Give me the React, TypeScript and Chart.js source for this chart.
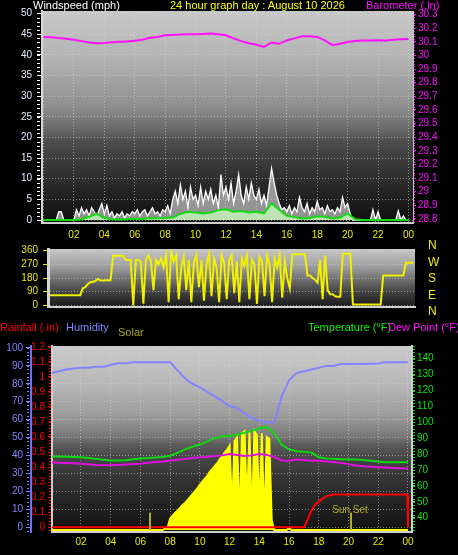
import React, { useEffect, useRef } from "react";
import { Chart, registerables } from "chart.js";

Chart.register(...registerables);

const FONT = "'Liberation Sans', Arial, sans-serif";
Chart.defaults.font.family = FONT;
Chart.defaults.font.size = 10;

// ---------------- DATA ----------------
// half-hourly series: index i -> hour i * 0.5 (0 .. 24)
const barometerInHalfHourly = [
  30.135, 30.133, 30.128, 30.122, 30.115, 30.105, 30.095, 30.09, 30.092, 30.096,
  30.1, 30.103, 30.107, 30.115, 30.13, 30.135, 30.148, 30.15, 30.153, 30.155,
  30.156, 30.158, 30.16, 30.155, 30.148, 30.125, 30.105, 30.09, 30.078, 30.062,
  30.095, 30.085, 30.11, 30.125, 30.14, 30.14, 30.136, 30.11, 30.075, 30.085,
  30.098, 30.106, 30.11, 30.11, 30.112, 30.11, 30.115, 30.118, 30.12,
];
const windAvgMphHalfHourly = [
  0, 0, 0, 0, 0, 0.2, 0.8, 1.5, 0.5, 0.2,
  0.1, 0.2, 0.3, 0.2, 0.5, 0.4, 0.5, 0.6, 1.5, 2,
  1.8, 1.6, 1.8, 2.4, 2.6, 2, 2.2, 1.8, 2, 1.6,
  4.0, 2.5, 1.0, 0.7, 0.4, 0.5, 0.9, 0.8, 0.4, 0.6,
  1.6, 0.2, 0, 0, 0, 0, 0, 0, 0,
];
const humidityHalfHourly = [
  86, 87, 88, 88.5, 89, 89, 89.5, 89.5, 90.5, 91.5,
  91.5, 92, 92, 92, 92, 92, 92, 87.5, 83, 80,
  78, 75.5, 73, 70.5, 67.5, 66.5, 63.5, 61, 59.5, 58.3,
  58.5, 73, 82, 86, 87, 88, 89, 90, 90, 91,
  91, 91, 91, 91.2, 91.4, 92, 92, 92, 92,
];
const temperatureHalfHourly = [
  78.5, 78.5, 78.3, 78.1, 78, 77.5, 77, 76.5, 76, 76,
  76.2, 76.8, 77.3, 77.6, 77.8, 78.2, 79, 80.8, 83, 84.6,
  86, 88, 90, 91.2, 91.6, 92.2, 93.5, 94.6, 96.3, 97,
  93, 86, 83, 81.8, 81.4, 81, 78, 77.2, 77, 76.8,
  76.6, 76.6, 76.3, 75.8, 75.3, 74.9, 74.8, 74.8, 74.8,
];
const dewPointHalfHourly = [
  74.8, 74.6, 74.4, 74.2, 74, 73.6, 73.2, 73, 73, 73.2,
  73.5, 73.8, 74, 74.5, 75, 75.3, 75.8, 76.4, 77, 77.5,
  78, 78.4, 78.8, 79.2, 80, 79.4, 78.8, 79.2, 80, 79.5,
  78.2, 76, 75.8, 76.6, 76.3, 76, 75.8, 75.4, 75, 74.4,
  73.7, 72.8, 72.3, 72, 71.7, 71.5, 71.3, 71.1, 71,
];

// ten-minute series: index i -> hour i / 6 (0 .. 24), one row per hour
const windGustMph10Min = [
  0, 0, 0, 0, 0, 0,
  2, 2, 0, 0, 0, 0,
  0, 2.5, 1, 3, 1.5, 2.5,
  1, 3, 2, 1, 2.5, 4,
  1.5, 3.5, 1, 2, 0.5, 1.5,
  1, 2, 0.5, 1.5, 1, 2,
  1.5, 2.5, 1, 2, 2.5, 1,
  2, 3, 1.5, 2, 1, 2.5,
  2, 3.5, 1.5, 5, 7, 4,
  8.5, 5, 7, 3, 8, 5,
  6, 3.5, 8, 4, 7, 5,
  7.5, 4, 6, 3, 11, 6,
  8, 5, 9, 4, 7, 11,
  6, 4, 8, 5, 9, 6,
  5, 7.5, 4, 6, 3.5, 8,
  12.5, 9, 6, 4, 2.5, 3,
  2, 3.5, 1.5, 3, 2, 5.5,
  3, 2, 4, 1.5, 3, 2,
  4.5, 2.5, 3, 1.5, 3.5, 2,
  2.5, 1.5, 3, 2, 5.5, 3,
  4, 1.5, 0, 0, 0, 0,
  0, 0, 0, 0, 2.5, 0,
  2, 0, 0, 0, 0, 0,
  0, 0, 2.2, 0, 1, 0,
  0,
];
const windDirDeg10Min = [
  67, 67, 67, 67, 67, 67,
  67, 67, 67, 67, 67, 67,
  67, 112, 120, 140, 152, 155,
  160, 175, 163, 163, 165, 165,
  165, 326, 328, 326, 326, 326,
  300, 298, 298, 0, 298, 300,
  285, 10, 300, 330, 290, 100,
  300, 270, 310, 250, 330, 20,
  350, 290, 330, 40, 250, 320,
  100, 300, 20, 280, 330, 120,
  300, 30, 270, 340, 60, 310,
  250, 20, 330, 280, 40, 300,
  330, 80, 290, 20, 310, 260,
  330, 40, 300, 270, 10, 320,
  290, 60, 330, 270, 20, 310,
  250, 330, 50, 290, 180, 112,
  337, 337, 337, 337, 337, 337,
  197, 197, 180, 169, 150, 300,
  40, 330, 100, 73, 73, 60,
  56, 56, 340, 340, 340, 340,
  6, 6, 6, 6, 6, 6,
  6, 6, 6, 6, 6, 6,
  197, 197, 197, 197, 197, 197,
  197, 197, 197, 281, 281, 281,
  281,
];
const solarWm2_10Min = [
  0, 0, 0, 0, 0, 0,
  0, 0, 0, 0, 0, 0,
  0, 0, 0, 0, 0, 0,
  0, 0, 0, 0, 0, 0,
  0, 0, 0, 0, 0, 0,
  0, 0, 0, 0, 0, 0,
  0, 0, 0, 0, 0, 0,
  0, 0, 0, 0, 10, 15,
  60, 75, 90, 100, 115, 130,
  140, 155, 170, 185, 200, 215,
  235, 250, 265, 280, 300, 315,
  330, 345, 365, 380, 400, 415,
  435, 100, 460, 480, 30, 500,
  510, 120, 505, 40, 510, 490,
  80, 500, 20, 480, 470, 50,
  0, 0, 0, 0, 0, 0,
  10, 0, 0, 0, 0, 0,
  0, 0, 0, 0, 0, 0,
  0, 0, 0, 0, 0, 0,
  0, 0, 0, 0, 0, 0,
  0, 0, 0, 0, 0, 0,
  0, 0, 0, 0, 0, 0,
  0, 0, 0, 0, 0, 0,
  0, 0, 0, 0, 0, 0,
  0,
];

const rainHours = [0, 17.0, 17.25, 17.5, 17.75, 18.0, 18.25, 18.5, 18.75, 19.0, 23.95, 24.0];
const rainInches = [0, 0, 0.05, 0.11, 0.15, 0.17, 0.19, 0.205, 0.213, 0.217, 0.217, 0];

const sunEventHours = [6.65, 20.17];
const sunEventLabels = ["", "Sun Set"];
const sunEventMarkerSolar = 90;

const compassLabels = ["N", "W", "S", "E", "N"];

// ---------------- helpers ----------------
const atStep = (values: number[], step: number) => values.map((v, i) => ({ x: i * step, y: v }));
const pairs = (xs: number[], ys: number[]) => xs.map((x, i) => ({ x, y: ys[i] }));
const hourLabel = (v: number) => String(Math.round(v) % 24).padStart(2, "0");

const GRID = "rgba(215,215,215,0.55)";

function bgPlugin(stops: [number, string][]) {
  return {
    id: "bgGradient",
    beforeDraw(chart: any) {
      const { ctx, chartArea } = chart;
      if (!chartArea) return;
      const { left, top, right, bottom } = chartArea;
      const g = ctx.createLinearGradient(0, top, 0, bottom);
      stops.forEach(([p, c]) => g.addColorStop(p, c));
      ctx.save();
      ctx.fillStyle = g;
      ctx.fillRect(left, top, right - left, bottom - top);
      ctx.restore();
    },
  };
}

type Minor = { axis: string; step: number; color: string; len: number; offset: number };
function minorPlugin(list: Minor[]) {
  return {
    id: "minorTicks",
    afterDraw(chart: any) {
      const ctx = chart.ctx;
      ctx.save();
      ctx.lineWidth = 1;
      for (const m of list) {
        const s = chart.scales[m.axis];
        if (!s) continue;
        ctx.strokeStyle = m.color;
        const a = Math.ceil(s.min / m.step - 1e-9);
        const b = Math.floor(s.max / m.step + 1e-9);
        for (let k = a; k <= b; k++) {
          const y = Math.round(s.getPixelForValue(k * m.step)) + 0.5;
          ctx.beginPath();
          if (s.position === "left") {
            ctx.moveTo(s.right - m.offset - m.len, y);
            ctx.lineTo(s.right - m.offset, y);
          } else {
            ctx.moveTo(s.left + m.offset, y);
            ctx.lineTo(s.left + m.offset + m.len, y);
          }
          ctx.stroke();
        }
      }
      ctx.restore();
    },
  };
}

const sunPlugin = {
  id: "sunEvents",
  afterDatasetsDraw(chart: any) {
    const { ctx, chartArea } = chart;
    const x = chart.scales.x;
    const s = chart.scales.solar;
    ctx.save();
    ctx.beginPath();
    ctx.rect(chartArea.left, chartArea.top, chartArea.right - chartArea.left, chartArea.bottom - chartArea.top);
    ctx.clip();
    sunEventHours.forEach((h, i) => {
      const px = x.getPixelForValue(h);
      const y0 = s.getPixelForValue(0);
      const y1 = s.getPixelForValue(sunEventMarkerSolar);
      ctx.fillStyle = "#b4aa2a";
      ctx.fillRect(Math.round(px) - 1, y1, 2, y0 - y1);
      if (sunEventLabels[i]) {
        ctx.font = `10px ${FONT}`;
        ctx.textAlign = "center";
        ctx.textBaseline = "alphabetic";
        ctx.fillText(sunEventLabels[i], px - 1, y1);
      }
    });
    ctx.restore();
  },
};

const tickFont = { size: 10, family: FONT };

export default function App() {
  const topRef = useRef<HTMLCanvasElement>(null);
  const midRef = useRef<HTMLCanvasElement>(null);
  const botRef = useRef<HTMLCanvasElement>(null);

  useEffect(() => {
    document.body.style.margin = "0";
    document.body.style.background = "#000";
    const charts: Chart[] = [];

    // ---------- top: wind speed + barometer ----------
    charts.push(
      new Chart(topRef.current as HTMLCanvasElement, {
        type: "line",
        data: {
          datasets: [
            {
              label: "Barometer",
              data: atStep(barometerInHalfHourly, 0.5),
              yAxisID: "baro",
              borderColor: "#ff10ff",
              borderWidth: 2,
              pointRadius: 0,
              order: 0,
            },
            {
              label: "Wind avg",
              data: atStep(windAvgMphHalfHourly, 0.5),
              yAxisID: "wind",
              borderColor: "#10dc10",
              backgroundColor: "rgba(196,240,186,0.85)",
              fill: "origin",
              borderWidth: 2,
              pointRadius: 0,
              order: 1,
            },
            {
              label: "Wind gust",
              data: atStep(windGustMph10Min, 1 / 6),
              yAxisID: "wind",
              borderColor: "#ffffff",
              backgroundColor: "rgba(230,230,230,0.6)",
              fill: "origin",
              borderWidth: 1.3,
              pointRadius: 0,
              order: 2,
            },
          ],
        },
        options: {
          animation: false,
          responsive: false,
          events: [],
          layout: { padding: { top: 10, left: 0, right: 0, bottom: 0 } },
          plugins: { legend: { display: false }, tooltip: { enabled: false } },
          scales: {
            x: {
              type: "linear",
              min: -0.1,
              max: 24.3,
              ticks: {
                stepSize: 2,
                includeBounds: false,
                autoSkip: false,
                maxRotation: 0,
                color: "#e8e800",
                padding: 6,
                font: tickFont,
                callback: (v: any) => (v === 0 ? "" : hourLabel(v)),
              },
              grid: { color: GRID, drawTicks: false, borderDash: [1, 2] } as any,
              border: { color: "#cfcfcf", width: 2, dash: [1, 2] },
              afterFit: (s: any) => {
                s.height = 20;
              },
            },
            wind: {
              type: "linear",
              position: "left",
              min: -0.72,
              max: 50.6,
              ticks: { stepSize: 5, includeBounds: false, autoSkip: false, color: "#e6ecff", padding: 5, font: tickFont },
              grid: { color: GRID, tickColor: "#ffffff", tickLength: 5, tickBorderDash: [], borderDash: [1, 2] } as any,
              border: { color: "#d8d8d8", width: 2, dash: [1, 2] },
              afterFit: (s: any) => {
                s.width = 42;
              },
            },
            baro: {
              type: "linear",
              position: "right",
              min: 28.77,
              max: 30.326,
              ticks: {
                stepSize: 0.1,
                includeBounds: false,
                autoSkip: false,
                color: "#ff10ff",
                padding: 2,
                font: tickFont,
                callback: (v: any) => String(Math.round(v * 10) / 10),
              },
              grid: { drawOnChartArea: false, tickColor: "#ff10ff", tickLength: 3 },
              border: { color: "#bdbdbd", width: 1 },
              afterFit: (s: any) => {
                s.width = 45;
              },
            },
          },
        } as any,
        plugins: [
          bgPlugin([
            [0, "#c8c8c8"],
            [0.25, "#b0b0b0"],
            [0.45, "#8e8e8e"],
            [0.55, "#6c6c6c"],
            [0.62, "#4c4c4c"],
            [0.75, "#343434"],
            [0.88, "#202020"],
            [1, "#0e0e0e"],
          ]),
          minorPlugin([
            { axis: "wind", step: 1, color: "#ffffff", len: 3, offset: 2 },
            { axis: "baro", step: 0.02, color: "#ff10ff", len: 1, offset: 1 },
          ]),
        ],
      } as any)
    );

    // ---------- middle: wind direction ----------
    charts.push(
      new Chart(midRef.current as HTMLCanvasElement, {
        type: "line",
        data: {
          datasets: [
            {
              label: "Wind direction",
              data: atStep(windDirDeg10Min, 1 / 6),
              borderColor: "#f0f000",
              borderWidth: 2,
              pointRadius: 0,
            },
          ],
        },
        options: {
          animation: false,
          responsive: false,
          events: [],
          layout: { padding: { top: 6, left: 0, right: 43, bottom: 0 } },
          plugins: { legend: { display: false }, tooltip: { enabled: false } },
          scales: {
            x: {
              type: "linear",
              min: -0.13,
              max: 24.1,
              ticks: { display: false },
              grid: { display: false },
              border: { color: "#cfcfcf", width: 2 },
              afterFit: (s: any) => {
                s.height = 6;
              },
            },
            y: {
              type: "linear",
              min: -11,
              max: 371,
              ticks: { stepSize: 90, includeBounds: false, autoSkip: false, color: "#e8e800", padding: 5, font: tickFont },
              grid: { color: GRID, tickColor: "#e8e800", tickLength: 5, tickBorderDash: [], borderDash: [1, 2] } as any,
              border: { color: "#d4d4d4", width: 3, dash: [1, 2] },
              afterFit: (s: any) => {
                s.width = 48;
              },
            },
          },
        } as any,
        plugins: [
          bgPlugin([
            [0, "#c6c6c6"],
            [0.3, "#a0a0a0"],
            [0.55, "#6a6a6a"],
            [0.8, "#383838"],
            [1, "#1a1a1a"],
          ]),
        ],
      } as any)
    );

    // ---------- bottom: rain, humidity, solar, temperature, dew point ----------
    charts.push(
      new Chart(botRef.current as HTMLCanvasElement, {
        type: "line",
        data: {
          datasets: [
            {
              label: "Rainfall",
              data: pairs(rainHours, rainInches),
              yAxisID: "rain",
              borderColor: "#ff0000",
              borderWidth: 2,
              pointRadius: 0,
              order: 0,
            },
            {
              label: "Temperature",
              data: atStep(temperatureHalfHourly, 0.5),
              yAxisID: "temp",
              borderColor: "#10d810",
              borderWidth: 2,
              pointRadius: 0,
              order: 1,
            },
            {
              label: "Dew Point",
              data: atStep(dewPointHalfHourly, 0.5),
              yAxisID: "temp",
              borderColor: "#e010e0",
              borderWidth: 2,
              pointRadius: 0,
              order: 2,
            },
            {
              label: "Humidity",
              data: atStep(humidityHalfHourly, 0.5),
              yAxisID: "hum",
              borderColor: "#8484ff",
              borderWidth: 2,
              pointRadius: 0,
              order: 3,
            },
            {
              label: "Solar",
              data: atStep(solarWm2_10Min, 1 / 6),
              yAxisID: "solar",
              borderColor: "#ffff00",
              backgroundColor: "#ffff00",
              fill: "origin",
              borderWidth: 2,
              pointRadius: 0,
              order: 4,
            },
          ],
        },
        options: {
          animation: false,
          responsive: false,
          events: [],
          layout: { padding: { top: 3, left: 0, right: 0, bottom: 0 } },
          plugins: { legend: { display: false }, tooltip: { enabled: false } },
          scales: {
            x: {
              type: "linear",
              min: 0.05,
              max: 24.27,
              ticks: {
                stepSize: 2,
                includeBounds: false,
                autoSkip: false,
                maxRotation: 0,
                color: "#e8e800",
                padding: 4,
                font: tickFont,
                callback: (v: any) => hourLabel(v),
              },
              grid: { color: GRID, drawTicks: false, borderDash: [1, 2] } as any,
              border: { color: "#d0d0d0", width: 2, dash: [1, 2] },
              afterFit: (s: any) => {
                s.height = 23;
              },
            },
            rain: {
              type: "linear",
              position: "left",
              weight: 0,
              min: -0.032,
              max: 1.205,
              ticks: {
                stepSize: 0.1,
                includeBounds: false,
                autoSkip: false,
                color: "#ff0000",
                padding: 3,
                font: tickFont,
                callback: (v: any) => String(Math.round(v * 10) / 10),
              },
              grid: { drawOnChartArea: false, tickColor: "#ff0000", tickLength: 4 },
              border: { color: "#d0d0d0", width: 2 },
              afterFit: (s: any) => {
                s.width = 21;
              },
            },
            hum: {
              type: "linear",
              position: "left",
              weight: 1,
              min: -2.7,
              max: 101.1,
              ticks: { stepSize: 10, includeBounds: false, autoSkip: false, color: "#8484ff", padding: 3, font: tickFont },
              grid: { color: GRID, tickColor: "#8484ff", tickLength: 5, tickBorderDash: [], borderDash: [1, 2] } as any,
              border: { color: "#7070f0", width: 2, dash: [1, 2] },
              afterFit: (s: any) => {
                s.width = 31;
              },
            },
            temp: {
              type: "linear",
              position: "right",
              min: 31,
              max: 148,
              ticks: { stepSize: 10, includeBounds: false, autoSkip: false, color: "#10e010", padding: 2, font: tickFont },
              grid: { drawOnChartArea: false, tickColor: "#10e010", tickLength: 3 },
              border: { color: "#cfcfcf", width: 2 },
              afterFit: (s: any) => {
                s.width = 46;
              },
            },
            solar: {
              type: "linear",
              display: false,
              min: -10,
              max: 950,
            },
          },
        } as any,
        plugins: [
          bgPlugin([
            [0, "#cacaca"],
            [0.22, "#b6b6b6"],
            [0.38, "#9a9a9a"],
            [0.48, "#7a7a7a"],
            [0.53, "#5c5c5c"],
            [0.6, "#464646"],
            [0.72, "#333333"],
            [0.86, "#222222"],
            [1, "#101010"],
          ]),
          sunPlugin,
          minorPlugin([
            { axis: "hum", step: 2, color: "#8484ff", len: 2, offset: 2 },
            { axis: "rain", step: 0.02, color: "#ff0000", len: 2, offset: 1 },
            { axis: "temp", step: 2, color: "#10e010", len: 2, offset: 1 },
          ]),
        ],
      } as any)
    );

    return () => charts.forEach((c) => c.destroy());
  }, []);

  const txt = (text: string, left: number, top: number, color: string, size = 11): React.ReactNode => (
    <div
      key={text + left + top}
      style={{
        position: "absolute",
        left,
        top,
        color,
        fontSize: size,
        lineHeight: "14px",
        whiteSpace: "nowrap",
        fontFamily: FONT,
      }}
    >
      {text}
    </div>
  );

  return (
    <div
      style={{
        position: "fixed",
        left: 0,
        top: 0,
        width: 458,
        height: 555,
        background: "#000",
        overflow: "hidden",
      }}
    >
      <canvas ref={topRef} width={458} height={243} style={{ position: "absolute", left: 0, top: 0, width: 458, height: 243 }} />
      <canvas ref={midRef} width={458} height={80} style={{ position: "absolute", left: 0, top: 238, width: 458, height: 80 }} />
      <canvas ref={botRef} width={458} height={218} style={{ position: "absolute", left: 0, top: 337, width: 458, height: 218 }} />

      {txt("Windspeed (mph)", 33, -2, "#ffffff")}
      {txt("24 hour graph day : August 10 2026", 170, -2, "#ffff00")}
      {txt("Barometer (.in)", 366, -2, "#ff10ff")}

      {compassLabels.map((c, i) => (
        <div
          key={"c" + i}
          style={{
            position: "absolute",
            left: 428,
            top: 238 + i * 16.6,
            color: "#f0f000",
            fontSize: 12,
            lineHeight: "14px",
            fontFamily: FONT,
          }}
        >
          {c}
        </div>
      ))}

      {txt("Rainfall (.in)", 0, 320, "#ff0000")}
      {txt("Humidity", 66, 320, "#8484ff")}
      {txt("Solar", 118, 325, "#a6a624")}
      {txt("Temperature (°F)", 308, 320, "#10f010")}
      {txt("Dew Point (°F)", 388, 320, "#ff10ff")}
    </div>
  );
}
